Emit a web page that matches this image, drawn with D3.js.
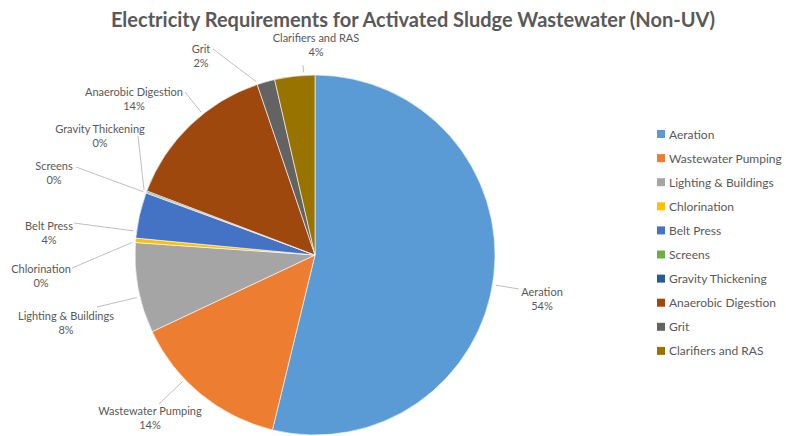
<!DOCTYPE html>
<html>
<head>
<meta charset="utf-8">
<script src="https://cdn.jsdelivr.net/npm/d3@7"></script>
<style>
  html, body { margin: 0; padding: 0; background: #fff; }
  svg { display: block; }
  text { font-family: Lato, "Open Sans", sans-serif; fill: #595959; }
</style>
</head>
<body>
<svg id="chart" width="786" height="436"></svg>
<script>
// Share of electricity use by process (percent)
const categories = [
  "Aeration", "Wastewater Pumping", "Lighting & Buildings", "Chlorination",
  "Belt Press", "Screens", "Gravity Thickening", "Anaerobic Digestion",
  "Grit", "Clarifiers and RAS"
];
const shares = [53.8, 14.2, 8.1, 0.4, 4.1, 0.1, 0.1, 14.0, 1.6, 3.6];
const colors = [
  "#5B9BD5", "#ED7D31", "#A5A5A5", "#FFC000", "#4472C4",
  "#70AD47", "#255E91", "#9E480E", "#636363", "#997300"
];
const title = "Electricity Requirements for Activated Sludge Wastewater (Non-UV)";

// Hand-placed data label spots (label centre x, first-line y, leader start)
const labelLayout = {
  "Aeration":             { x: 542, y: 292, lx: 519, ly: 289 },
  "Wastewater Pumping":   { x: 150, y: 411, lx: 159, ly: 404 },
  "Lighting & Buildings": { x: 66,  y: 316, lx: 97,  ly: 307 },
  "Chlorination":         { x: 41,  y: 269, lx: 72,  ly: 268 },
  "Belt Press":           { x: 49,  y: 226, lx: 74,  ly: 223 },
  "Screens":              { x: 54,  y: 166, lx: 76,  ly: 167 },
  "Gravity Thickening":   { x: 100, y: 129, lx: 138, ly: 136 },
  "Anaerobic Digestion":  { x: 134, y: 92,  lx: 185, ly: 92 },
  "Grit":                 { x: 201, y: 49,  lx: 213, ly: 49 },
  "Clarifiers and RAS":   { x: 316, y: 38,  lx: 303, ly: 65 }
};

const W = 786, H = 436;
const cx = 315, cy = 255, R = 180;

const svg = d3.select("#chart");

// Title
svg.append("text")
  .attr("x", 413).attr("y", 27)
  .attr("text-anchor", "middle")
  .style("font-size", "20px")
  .style("font-weight", "bold")
  .text(title);

const data = categories.map((c, i) => ({ name: c, value: shares[i], color: colors[i] }));
const total = d3.sum(shares);

const pie = d3.pie().value(d => d.value).sort(null);
const arcs = pie(data);
const arc = d3.arc().innerRadius(0).outerRadius(R);

const g = svg.append("g").attr("transform", `translate(${cx},${cy})`);

g.selectAll("path.slice")
  .data(arcs)
  .join("path")
  .attr("class", "slice")
  .attr("d", arc)
  .attr("fill", d => d.data.color)
  .attr("stroke", "#fff")
  .attr("stroke-width", 0.6);

// Leader lines: from label to the point on the slice edge facing the label
const leaders = svg.append("g");
arcs.forEach(a => {
  const L = labelLayout[a.data.name];
  const toward = Math.atan2(L.lx - cx, -(L.ly - cy));
  let ang = toward < 0 ? toward + 2 * Math.PI : toward;
  ang = Math.max(a.startAngle, Math.min(a.endAngle, ang));
  const rr = R + 3;
  const ex = cx + rr * Math.sin(ang), ey = cy - rr * Math.cos(ang);
  leaders.append("line")
    .attr("x1", L.lx).attr("y1", L.ly)
    .attr("x2", ex).attr("y2", ey)
    .attr("stroke", "#BFBFBF").attr("stroke-width", 1);
});

// Data labels: category name and rounded percent
const labels = svg.append("g");
arcs.forEach(a => {
  const L = labelLayout[a.data.name];
  const pct = Math.round(a.data.value / total * 100) + "%";
  const t = labels.append("text")
    .attr("text-anchor", "middle")
    .style("font-size", "11px");
  t.append("tspan").attr("x", L.x).attr("y", L.y + 4).text(a.data.name);
  t.append("tspan").attr("x", L.x).attr("y", L.y + 18).text(pct);
});

// Legend
const legend = svg.append("g").attr("transform", "translate(657,134)");
const rowH = 24.1;
const rows = legend.selectAll("g.row")
  .data(data)
  .join("g")
  .attr("class", "row")
  .attr("transform", (d, i) => `translate(0,${i * rowH})`);
rows.append("rect")
  .attr("x", 0).attr("y", -4).attr("width", 8).attr("height", 8)
  .attr("fill", d => d.color);
rows.append("text")
  .attr("x", 12).attr("y", 4.5)
  .style("font-size", "12px")
  .text(d => d.name);
</script>
</body>
</html>
